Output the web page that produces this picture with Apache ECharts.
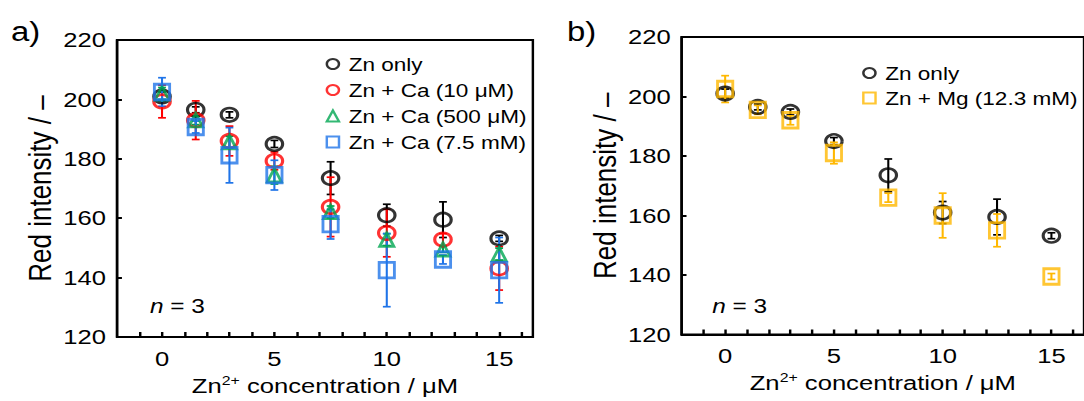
<!DOCTYPE html>
<html>
<head>
<meta charset="utf-8">
<script src="https://cdn.jsdelivr.net/npm/echarts@6/dist/echarts.min.js"></script>
<style>
  html, body { margin: 0; padding: 0; background: #fff; overflow: hidden; }
  /* the figure is drawn narrower and stretched sideways, like the source picture */
  #chart { width: 889px; height: 401px; transform: scaleX(1.2194); transform-origin: 0 0; }
</style>
</head>
<body>
<div id="chart"></div>
<script>
// Zn2+ concentration (uM)
const conc = [0, 1.5, 3, 5, 7.5, 10, 12.5, 15];
// red intensity, mean and sd
const znOnly = [201, 196.5, 194.8, 185, 173.5, 161, 159.5, 153.2];
const znOnlyErr = [1.5, 1, 1, 1.2, 5.5, 3.7, 6, 1];
const znCa10 = [199.3, 193, 186, 179.3, 163.8, 155, 152.8, 143.1];
const znCa10Err = [5.5, 6.5, 5, 3, 10, 8, 2, 7.3];
const znCa500 = [202, 193, 185.6, 174.5, 162.1, 152.8, 149.5, 147.9];
const znCa500Err = [2, 1.5, 2, 3, 2, 2, 1, 2];
const znCa7500 = [202.5, 190.7, 181.2, 174.5, 158, 142.5, 146.1, 142.5];
const znCa7500Err = [4.8, 2, 9.3, 5, 5, 12.3, 1.5, 11];
const znMg = [202.5, 195.5, 192, 181, 166, 160, 155, 139.5];
const znMgErr = [4.5, 1.5, 1.5, 3.6, 1.5, 7.5, 5.5, 1];
const xTickLabels = [0, 5, 10, 15];

const FONT = 'Liberation Sans, Arial, sans-serif';

function points(vals) {
  return conc.map((x, i) => [x, vals[i]]);
}
function errPoints(vals, errs) {
  return conc.map((x, i) => [x, vals[i] - errs[i], vals[i] + errs[i]]);
}

// error bars drawn as custom series
function errorBar(name, vals, errs, color, idx) {
  return {
    name: name + ' sd',
    type: 'custom',
    xAxisIndex: idx,
    yAxisIndex: idx,
    data: errPoints(vals, errs),
    encode: { x: 0, y: [1, 2] },
    z: 2,
    renderItem: function (params, api) {
      const lo = api.coord([api.value(0), api.value(1)]);
      const hi = api.coord([api.value(0), api.value(2)]);
      const w = 3.2;
      const style = { stroke: color, lineWidth: 1.7 };
      return {
        type: 'group',
        children: [
          { type: 'line', shape: { x1: lo[0], y1: lo[1], x2: hi[0], y2: hi[1] }, style: style },
          { type: 'line', shape: { x1: lo[0] - w, y1: lo[1], x2: lo[0] + w, y2: lo[1] }, style: style },
          { type: 'line', shape: { x1: hi[0] - w, y1: hi[1], x2: hi[0] + w, y2: hi[1] }, style: style }
        ]
      };
    }
  };
}

function markers(name, vals, color, symbol, size, idx) {
  return {
    name: name,
    type: 'scatter',
    xAxisIndex: idx,
    yAxisIndex: idx,
    symbol: symbol,
    symbolSize: size,
    data: points(vals),
    z: 3,
    itemStyle: { color: 'rgba(255,255,255,0)', borderColor: color, borderWidth: 2.6 }
  };
}

function xAxisOf(idx) {
  return {
    type: 'value',
    gridIndex: idx,
    min: -2,
    max: 16.5,
    interval: 1,
    name: 'Zn{sup|2+} concentration / μM',
    nameLocation: 'middle',
    nameGap: 35,
    nameTextStyle: {
      fontFamily: FONT, fontSize: 21, color: '#000',
      rich: { sup: { fontFamily: FONT, fontSize: 13, color: '#000', verticalAlign: 'top', padding: [0, 0, 10, 0] } }
    },
    axisLine: { show: true, onZero: false, lineStyle: { color: '#000', width: 2 } },
    axisTick: { show: true, inside: true, length: 5, lineStyle: { color: '#000', width: 2 } },
    splitLine: { show: false },
    axisLabel: {
      fontFamily: FONT, fontSize: 21, color: '#000', margin: 11,
      showMinLabel: false, showMaxLabel: false,
      formatter: function (v) { return xTickLabels.indexOf(v) >= 0 ? String(v) : ''; }
    }
  };
}

function yAxisOf(idx) {
  return {
    type: 'value',
    gridIndex: idx,
    min: 120,
    max: 220,
    interval: 20,
    name: 'Red intensity / –',
    nameLocation: 'middle',
    nameGap: 50,
    nameTextStyle: { fontFamily: FONT, fontSize: 26, color: '#000' },
    axisLine: { show: true, onZero: false, lineStyle: { color: '#000', width: 2 } },
    axisTick: { show: true, inside: true, length: 4, lineStyle: { color: '#000', width: 2 } },
    splitLine: { show: false },
    axisLabel: { fontFamily: FONT, fontSize: 21, color: '#000', margin: 9 }
  };
}

const legendText = { fontFamily: FONT, fontSize: 18.5, color: '#000', lineHeight: 20, padding: [0, 0, 0, 3] };

const chart = echarts.init(document.getElementById('chart'), null, { renderer: 'svg' });
chart.setOption({
  animation: false,
  backgroundColor: '#fff',
  grid: [
    { left: 96, top: 40, width: 341, height: 297, show: true, borderColor: '#000', borderWidth: 2, backgroundColor: 'transparent' },
    { left: 559, top: 37, width: 339, height: 297.5, show: true, borderColor: '#000', borderWidth: 2, backgroundColor: 'transparent' }
  ],
  xAxis: [xAxisOf(0), xAxisOf(1)],
  yAxis: [yAxisOf(0), yAxisOf(1)],
  legend: [
    {
      data: ['Zn only', 'Zn + Ca (10 μM)', 'Zn + Ca (500 μM)', 'Zn + Ca (7.5 mM)'],
      orient: 'vertical',
      left: 262,
      top: 49,
      itemWidth: 10,
      itemHeight: 11,
      itemGap: 6,
      textStyle: legendText
    },
    {
      data: ['Zn only ', 'Zn + Mg (12.3 mM)'],
      orient: 'vertical',
      left: 702,
      top: 58,
      itemWidth: 10,
      itemHeight: 11,
      itemGap: 5,
      textStyle: legendText
    }
  ],
  graphic: [
    { type: 'text', left: 9, top: 18, style: { text: 'a)', fontFamily: FONT, fontSize: 27, fill: '#000' } },
    { type: 'text', left: 465, top: 18, style: { text: 'b)', fontFamily: FONT, fontSize: 27, fill: '#000' } },
    { type: 'text', left: 123, top: 296, style: { text: '{i|n} = 3', fontFamily: FONT, fontSize: 20, fill: '#000',
      rich: { i: { fontFamily: FONT, fontSize: 20, fontStyle: 'italic', fill: '#000' } } } },
    { type: 'text', left: 584, top: 296, style: { text: '{i|n} = 3', fontFamily: FONT, fontSize: 20, fill: '#000',
      rich: { i: { fontFamily: FONT, fontSize: 20, fontStyle: 'italic', fill: '#000' } } } }
  ],
  series: [
    errorBar('Zn only', znOnly, znOnlyErr, '#000', 0),
    errorBar('Zn + Ca (10 μM)', znCa10, znCa10Err, '#ff0000', 0),
    errorBar('Zn + Ca (500 μM)', znCa500, znCa500Err, '#00a651', 0),
    errorBar('Zn + Ca (7.5 mM)', znCa7500, znCa7500Err, '#1f74e8', 0),
    markers('Zn only', znOnly, '#000', 'circle', 13.5, 0),
    markers('Zn + Ca (10 μM)', znCa10, '#ff0000', 'circle', 13.5, 0),
    markers('Zn + Ca (500 μM)', znCa500, '#00a651', 'triangle', [11.5, 13.5], 0),
    markers('Zn + Ca (7.5 mM)', znCa7500, '#1f74e8', 'rect', [12.5, 15.5], 0),
    errorBar('Zn only ', znOnly, znOnlyErr, '#000', 1),
    errorBar('Zn + Mg (12.3 mM)', znMg, znMgErr, '#ffb800', 1),
    markers('Zn only ', znOnly, '#000', 'circle', 13.5, 1),
    markers('Zn + Mg (12.3 mM)', znMg, '#ffb800', 'rect', [12.5, 15.5], 1)
  ]
});
</script>
</body>
</html>
